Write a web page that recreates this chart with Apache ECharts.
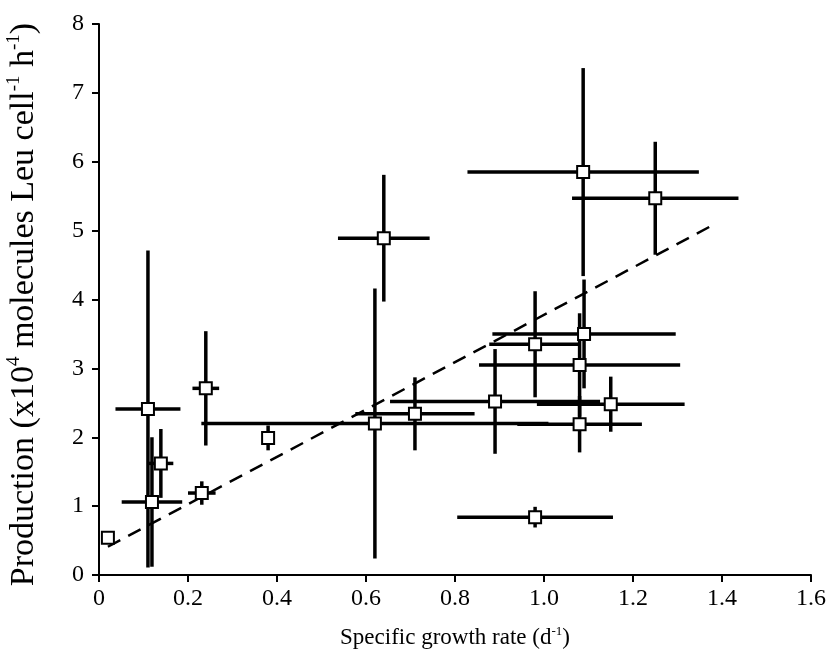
<!DOCTYPE html>
<html>
<head>
<meta charset="utf-8">
<script src="https://cdn.jsdelivr.net/npm/echarts@6/dist/echarts.min.js"></script>
<style>
  html, body { margin: 0; padding: 0; background: #fff; }
  #chart { width: 832px; height: 654px; }
</style>
</head>
<body>
<div id="chart"></div>
<script>
// growth rate (d-1) and production values, with symmetric errors
var growth = [0.02, 0.11, 0.119, 0.139, 0.231, 0.24, 0.38, 0.64, 0.62, 0.71, 0.89, 0.98, 1.08, 1.25, 1.09, 1.08, 0.98, 1.15, 1.088];
var production = [0.54, 2.41, 1.06, 1.62, 1.19, 2.71, 1.99, 4.89, 2.2, 2.34, 2.52, 0.84, 2.19, 5.47, 3.5, 3.05, 3.35, 2.48, 5.85];
var growthErr = [0, 0.073, 0.068, 0.028, 0.031, 0.03, 0, 0.103, 0.39, 0.134, 0.236, 0.175, 0.14, 0.187, 0.206, 0.226, 0.103, 0.166, 0.26];
var productionErr = [0, 2.3, 0.94, 0.5, 0.17, 0.83, 0.18, 0.92, 1.96, 0.53, 0.76, 0.15, 0.41, 0.82, 0.79, 0.75, 0.77, 0.4, 1.51];

// regression line end points
var trendX = [0.02, 1.385];
var trendY = [0.41, 5.1];

var xTicks = ["0", "0.2", "0.4", "0.6", "0.8", "1.0", "1.2", "1.4", "1.6"];

var points = growth.map(function (g, i) { return [g, production[i]]; });
var errData = growth.map(function (g, i) {
  return [g, production[i], growthErr[i], productionErr[i]];
});

var font = "Liberation Serif";

var option = {
  animation: false,
  backgroundColor: "#fff",
  grid: { left: 99, right: 21, top: 24, bottom: 79, outerBoundsMode: "none" },
  xAxis: {
    type: "value",
    min: 0,
    max: 1.6,
    interval: 0.2,
    splitLine: { show: false },
    axisLine: { lineStyle: { color: "#000", width: 2 } },
    axisTick: { length: 7, lineStyle: { color: "#000", width: 2 } },
    axisLabel: {
      margin: 12,
      color: "#000",
      fontFamily: font,
      fontSize: 24,
      formatter: function (v) { return xTicks[Math.round(v / 0.2)]; }
    },
    name: "{t|Specific growth rate (d}{s|-1}{t|)}",
    nameLocation: "middle",
    nameGap: 50,
    nameTextStyle: {
      rich: {
        t: { fontFamily: font, fontSize: 23, color: "#000", lineHeight: 26 },
        s: { fontFamily: font, fontSize: 13, color: "#000", verticalAlign: "top", lineHeight: 18 }
      }
    }
  },
  yAxis: {
    type: "value",
    min: 0,
    max: 8,
    interval: 1,
    splitLine: { show: false },
    axisLine: { lineStyle: { color: "#000", width: 2 } },
    axisTick: { length: 7, lineStyle: { color: "#000", width: 2 } },
    axisLabel: { margin: 15, color: "#000", fontFamily: font, fontSize: 24 },
    name: "{t|Production (x10}{s|4}{t| molecules Leu cell}{s|-1}{t| h}{s|-1}{t|)}",
    nameLocation: "middle",
    nameRotate: 90,
    nameGap: 56,
    nameTextStyle: {
      padding: [0, 10, 0, 0],
      rich: {
        t: { fontFamily: font, fontSize: 34, color: "#000", lineHeight: 38 },
        s: { fontFamily: font, fontSize: 19, color: "#000", verticalAlign: "top", lineHeight: 23 }
      }
    }
  },
  series: [
    {
      type: "line",
      data: [[trendX[0], trendY[0]], [trendX[1], trendY[1]]],
      symbol: "none",
      lineStyle: { color: "#000", width: 2.5, type: [14, 9] },
      z: 1
    },
    {
      type: "custom",
      data: errData,
      z: 2,
      renderItem: function (params, api) {
        var x = api.value(0), y = api.value(1);
        var ex = api.value(2), ey = api.value(3);
        var l = api.coord([x - ex, y]);
        var r = api.coord([x + ex, y]);
        var t = api.coord([x, y + ey]);
        var b = api.coord([x, y - ey]);
        var style = { stroke: "#000", lineWidth: 3.5 };
        return {
          type: "group",
          children: [
            { type: "line", shape: { x1: l[0], y1: l[1], x2: r[0], y2: r[1] }, style: style },
            { type: "line", shape: { x1: t[0], y1: t[1], x2: b[0], y2: b[1] }, style: style }
          ]
        };
      }
    },
    {
      type: "scatter",
      data: points,
      symbol: "rect",
      symbolSize: 12,
      itemStyle: { color: "#fff", borderColor: "#000", borderWidth: 2, opacity: 1 },
      z: 3
    }
  ]
};

var myChart = echarts.init(document.getElementById("chart"));
myChart.setOption(option);
</script>
</body>
</html>
